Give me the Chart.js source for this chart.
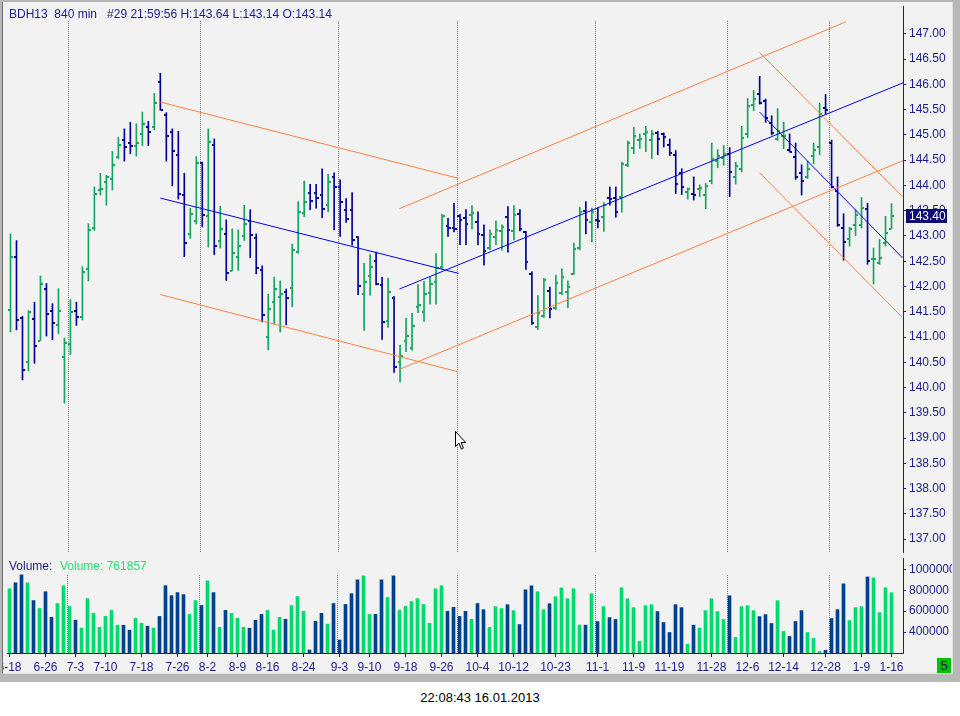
<!DOCTYPE html>
<html>
<head>
<meta charset="utf-8">
<script src="https://cdn.jsdelivr.net/npm/chart.js@4.4.1/dist/chart.umd.min.js"></script>
<style>
  body { margin: 0; width: 960px; height: 716px; overflow: hidden; background: #fff;
         font-family: "Liberation Sans", Arial, sans-serif; }
  #frame { position: absolute; left: 0; top: 0; width: 960px; height: 682px; background: #b8b8b8; }
  #panel { position: absolute; left: 2px; top: 2px; width: 949px; height: 671px; background: #f2f2f2;
           border-left: 1px solid #6e6e6e; border-right: 1px solid #dedede; border-bottom: 1px solid #dedede; }
  canvas { position: absolute; left: 3px; }
  #price { top: 2px; }
  #volume { top: 557px; }
  .txt { position: absolute; font-size: 12px; line-height: 14px; white-space: pre; color: #1c1c8a; }
  #hdr { left: 9px; top: 7px; }
  #volLbl { left: 9px; top: 559px; }
  #volVal { left: 60px; top: 559px; color: #2edc78; }
  #badge { position: absolute; left: 937px; top: 658px; width: 14px; height: 15px; background: #00c000;
           color: #101060; font-size: 13px; line-height: 15px; text-align: center; }
  #stamp { position: absolute; left: 0; top: 690px; width: 960px; text-align: center;
           font-size: 13px; line-height: 15px; color: #000; }
  #cursor { position: absolute; left: 455px; top: 431px; }
</style>
</head>
<body>
<div id="frame"></div>
<div id="panel"></div>
<canvas id="price" width="949" height="555"></canvas>
<canvas id="volume" width="949" height="116"></canvas>
<div id="hdr" class="txt">BDH13  840 min   #29 21:59:56 H:143.64 L:143.14 O:143.14</div>
<div id="volLbl" class="txt">Volume:</div>
<div id="volVal" class="txt">Volume: 761857</div>
<div id="badge">5</div>
<div id="stamp">22:08:43 16.01.2013</div>
<svg id="cursor" width="12" height="19" viewBox="0 0 12 19">
  <path d="M0.5 0.5 L0.5 15.5 L4 12.2 L6.4 18 L8.4 17.1 L6.1 11.6 L10.8 11.6 Z" fill="#fff" stroke="#000" stroke-width="1"/>
</svg>
<script>
// OHLC per 840-min bar
const opens = [
  141.54, 142.58, 141.37, 140.50, 141.35, 140.93, 141.96, 141.52, 141.23, 140.60,
  140.86, 141.52, 141.39, 142.35, 143.15, 143.90, 144.07, 144.13, 144.56, 144.90,
  144.84, 144.78, 145.01, 145.15, 145.15, 146.05, 145.40, 145.05, 144.60, 143.82,
  143.03, 143.29, 144.44, 143.40, 144.80, 142.90, 143.04, 142.31, 142.59, 142.99,
  143.29, 142.96, 142.33, 141.00, 141.69, 141.80, 141.90, 141.97, 142.68, 143.46,
  143.86, 143.86, 143.82, 143.62, 144.16, 143.96, 143.51, 143.51, 142.97, 141.86,
  142.21, 142.50, 142.02, 141.32, 141.78, 140.50, 140.92, 140.78, 141.60, 141.50,
  141.88, 142.09, 142.39, 143.19, 143.16, 143.39, 143.35, 143.42, 143.27, 143.01,
  142.76, 142.97, 143.09, 143.37, 143.10, 143.44, 143.07, 142.25, 141.19, 141.42,
  141.92, 141.57, 141.88, 141.90, 142.25, 142.76, 143.50, 143.27, 143.31, 143.37,
  143.76, 143.75, 143.78, 144.40, 144.74, 144.89, 145.01, 144.89, 145.03, 145.02,
  144.80, 144.60, 144.25, 143.88, 143.84, 143.93, 143.82, 144.09, 144.49, 144.54,
  144.63, 144.17, 144.33, 145.02, 145.59, 145.80, 145.67, 145.24, 144.91, 144.97,
  144.71, 144.56, 144.25, 144.17, 144.58, 144.76, 145.54, 144.84, 143.89, 143.16,
  142.94, 143.21, 143.22, 143.53, 142.54, 142.46, 142.86, 143.14
];
const highs = [
  143.04, 142.91, 141.41, 141.52, 141.69, 142.21, 142.06, 141.66, 141.96, 140.98,
  141.74, 141.69, 142.39, 143.24, 143.97, 144.24, 144.20, 144.67, 144.95, 145.12,
  145.25, 145.22, 145.45, 145.27, 145.82, 146.22, 145.44, 145.12, 145.07, 144.24,
  143.55, 144.57, 144.46, 145.12, 144.92, 143.59, 143.32, 143.14, 143.12, 143.61,
  143.52, 143.04, 142.41, 141.85, 142.18, 142.11, 141.95, 142.84, 143.68, 144.08,
  144.02, 144.02, 144.33, 144.22, 144.25, 144.11, 143.74, 143.86, 142.99, 142.46,
  142.63, 142.68, 142.18, 142.16, 141.80, 140.84, 141.37, 141.47, 142.04, 142.10,
  142.18, 142.65, 143.43, 143.35, 143.65, 143.43, 143.52, 143.60, 143.48, 143.22,
  143.12, 143.30, 143.22, 143.58, 143.60, 143.52, 143.09, 142.29, 141.82, 142.16,
  141.99, 142.22, 142.35, 142.11, 142.86, 143.57, 143.68, 143.55, 143.55, 143.66,
  143.97, 143.97, 144.46, 144.88, 145.15, 145.02, 145.17, 145.09, 145.07, 145.04,
  144.92, 144.69, 144.33, 143.95, 144.17, 144.01, 144.04, 144.84, 144.71, 144.79,
  144.75, 144.46, 145.17, 145.72, 145.88, 146.16, 145.71, 145.38, 145.52, 145.25,
  145.02, 144.84, 144.41, 144.48, 144.84, 145.63, 145.80, 144.90, 144.17, 143.44,
  143.17, 143.52, 143.76, 143.65, 142.76, 142.93, 143.39, 143.64
];
const lows = [
  141.10, 141.14, 140.15, 140.33, 140.48, 140.93, 141.02, 140.95, 141.07, 139.69,
  140.65, 141.23, 141.34, 142.11, 143.11, 143.81, 143.61, 143.91, 144.53, 144.48,
  144.63, 144.58, 144.79, 144.79, 145.10, 145.49, 144.48, 143.99, 143.73, 142.59,
  142.95, 143.24, 143.18, 142.78, 142.63, 142.76, 142.12, 142.31, 142.32, 142.91,
  142.57, 142.25, 141.30, 140.75, 141.26, 141.10, 141.24, 141.60, 142.66, 143.38,
  143.52, 143.55, 143.36, 143.48, 143.12, 142.99, 143.27, 142.82, 141.84, 141.13,
  141.83, 142.03, 140.95, 141.19, 140.30, 140.11, 140.71, 140.74, 141.48, 141.31,
  141.65, 141.65, 142.35, 142.99, 143.08, 142.83, 142.83, 143.14, 142.83, 142.42,
  142.73, 142.83, 142.72, 142.68, 142.92, 143.10, 142.34, 141.25, 141.15, 141.39,
  141.38, 141.54, 141.84, 141.58, 142.24, 142.73, 143.04, 142.88, 143.16, 143.09,
  143.61, 143.37, 143.47, 144.37, 144.63, 144.73, 144.67, 144.53, 144.61, 144.76,
  144.59, 143.84, 143.82, 143.73, 143.71, 143.78, 143.54, 144.03, 144.35, 144.40,
  143.78, 144.03, 144.27, 144.95, 145.48, 145.61, 145.25, 145.00, 144.89, 144.73,
  144.66, 144.12, 143.81, 144.14, 144.43, 144.61, 145.41, 143.95, 143.19, 142.52,
  142.80, 143.01, 143.16, 142.44, 142.05, 142.44, 142.80, 143.14
];
const closes = [
  142.58, 141.33, 140.35, 141.50, 140.82, 142.05, 141.46, 141.27, 141.52, 140.88,
  141.50, 141.39, 142.29, 143.11, 143.84, 143.92, 144.16, 144.40, 144.80, 144.76,
  144.78, 144.84, 145.21, 145.05, 145.64, 145.50, 144.97, 144.68, 143.84, 142.86,
  143.44, 144.44, 143.42, 144.86, 142.80, 143.13, 142.27, 142.66, 142.80, 143.23,
  143.01, 142.37, 141.44, 141.56, 141.95, 141.86, 141.78, 142.72, 143.48, 143.68,
  143.70, 143.76, 143.54, 144.06, 143.97, 143.68, 143.33, 142.93, 142.00, 142.09,
  142.39, 142.05, 141.29, 141.89, 140.41, 140.62, 141.03, 141.22, 141.63, 141.86,
  142.05, 142.37, 143.39, 143.15, 143.14, 143.31, 143.23, 143.46, 143.03, 142.70,
  143.03, 143.11, 143.18, 143.11, 143.41, 143.13, 142.48, 141.27, 141.47, 142.13,
  141.55, 142.06, 142.19, 141.99, 142.74, 143.48, 143.31, 143.48, 143.30, 143.62,
  143.74, 143.47, 144.42, 144.84, 144.97, 144.91, 145.05, 145.02, 144.92, 144.95,
  144.64, 144.03, 143.96, 143.92, 143.82, 143.95, 143.99, 144.53, 144.58, 144.62,
  144.26, 144.38, 144.93, 145.58, 145.71, 145.64, 145.33, 145.04, 145.07, 144.98,
  144.67, 144.16, 144.09, 144.33, 144.71, 145.42, 145.50, 143.97, 143.21, 142.88,
  143.14, 143.42, 143.56, 142.50, 142.55, 142.56, 143.06, 143.40
];
const volumes = [
  814000, 871000, 947000, 871000, 701000, 626000, 786000, 541000, 673000, 843000,
  645000, 513000, 437000, 720000, 579000, 446000, 550000, 607000, 465000, 465000,
  418000, 531000, 484000, 456000, 437000, 550000, 843000, 748000, 777000, 758000,
  569000, 701000, 654000, 890000, 777000, 446000, 607000, 579000, 531000, 446000,
  437000, 513000, 569000, 607000, 418000, 541000, 522000, 654000, 739000, 598000,
  229000, 503000, 579000, 475000, 673000, 324000, 664000, 767000, 899000, 937000,
  569000, 569000, 899000, 730000, 937000, 607000, 645000, 692000, 720000, 664000,
  484000, 814000, 843000, 598000, 636000, 550000, 598000, 522000, 673000, 614000,
  444000, 643000, 624000, 662000, 605000, 472000, 804000, 842000, 785000, 614000,
  671000, 738000, 823000, 719000, 814000, 466000, 466000, 766000, 501000, 643000,
  539000, 520000, 823000, 719000, 633000, 311000, 652000, 662000, 596000, 491000,
  396000, 662000, 633000, 283000, 466000, 437000, 605000, 719000, 596000, 520000,
  747000, 349000, 643000, 652000, 605000, 548000, 567000, 482000, 700000, 406000,
  358000, 501000, 605000, 396000, 339000, 216000, 226000, 529000, 614000, 861000,
  510000, 633000, 643000, 927000, 918000, 586000, 823000, 776000
];

// date labels on the time axis and the bar each one sits under
const dateLabels = ["6-18", "6-26", "7-3", "7-10", "7-18", "7-26", "8-2", "8-9", "8-16", "8-24",
  "9-3", "9-10", "9-18", "9-26", "10-4", "10-12", "10-23", "11-1", "11-9", "11-19",
  "11-28", "12-6", "12-14", "12-28", "1-9", "1-16"];
const dateTickBars = [0, 6, 11, 16, 22, 28, 33, 38, 43, 49, 55, 60, 66, 72, 78, 84, 91, 98,
  104, 110, 117, 123, 129, 136, 142, 147];
// first bar of each new month (dotted separators)
const monthStartBars = [10, 32, 55, 75, 98, 120, 137];
const volumeTicks = [400000, 600000, 800000, 1000000];
const lastPrice = 143.40;

// drawn trend lines: [bar, price] end points
const fallUpper = [[25, 145.65], [74.75, 144.14]];
const fallMid   = [[25, 143.75], [74.75, 142.26]];
const fallLower = [[25, 141.84], [74.75, 140.31]];
const riseUpper = [[64.9, 143.54], [139.4, 147.24]];
const riseMid   = [[64.9, 141.95], [148.9, 146.03]];
const riseLower = [[64.9, 140.36], [148.9, 144.49]];
const dropUpper = [[125, 146.63], [148.8, 143.78]];
const dropMid   = [[125, 145.45], [148.8, 142.57]];
const dropLower = [[125, 144.25], [148.8, 141.39]];

const AXIS = '#1c1c8a';
const GREEN = '#11a65c';
const BLUE = '#000094';
const VGREEN = '#00dc6c';
const VBLUE = '#00418c';
const ORANGE = '#ff8040';
const LINEBLUE = '#0000ff';
const FONT = { family: "'Liberation Sans', Arial, sans-serif", size: 12 };
const X_MIN = -0.4167, X_MAX = 148.9167;

const isUp = closes.map((c, i) => c >= opens[i]);

// small open (left) / close (right) tick images used as point styles
function tickImage(color, right) {
  const c = document.createElement('canvas');
  c.width = 5; c.height = 2;
  const g = c.getContext('2d');
  g.fillStyle = color;
  g.fillRect(right ? 3 : 0, 0, 2, 2);
  return c;
}
const openUp = tickImage(GREEN, false), openDown = tickImage(BLUE, false);
const closeUp = tickImage(GREEN, true), closeDown = tickImage(BLUE, true);

const monthLines = {
  id: 'monthLines',
  beforeDatasetsDraw(chart, args, opts) {
    const { ctx, chartArea, scales: { x } } = chart;
    ctx.save();
    ctx.strokeStyle = '#7c7c7c';
    ctx.lineWidth = 1;
    ctx.setLineDash([1, 1]);
    monthStartBars.forEach(b => {
      const px = Math.floor(x.getPixelForValue(b)) - 1.5;
      ctx.beginPath();
      ctx.moveTo(px, chartArea.top + opts.skip);
      ctx.lineTo(px, chartArea.bottom);
      ctx.stroke();
    });
    ctx.restore();
  }
};

const priceTag = {
  id: 'priceTag',
  afterDraw(chart) {
    const { ctx, chartArea, scales: { y } } = chart;
    const py = Math.round(y.getPixelForValue(lastPrice));
    ctx.save();
    // axis line continues up to the panel top
    ctx.strokeStyle = AXIS;
    ctx.beginPath();
    ctx.moveTo(chartArea.right + 0.5, 4);
    ctx.lineTo(chartArea.right + 0.5, chartArea.top);
    ctx.stroke();
    ctx.fillStyle = '#0c0c72';
    ctx.fillRect(chartArea.right + 3, py - 7, 41, 14);
    ctx.fillStyle = '#fff';
    ctx.font = "12px 'Liberation Sans', Arial, sans-serif";
    ctx.textBaseline = 'middle';
    ctx.fillText(lastPrice.toFixed(2), chartArea.right + 6, py + 0.5);
    ctx.restore();
  }
};

function trend(points, color) {
  return {
    type: 'line',
    data: points.map(p => ({ x: p[0], y: p[1] })),
    borderColor: color,
    borderWidth: 1,
    pointRadius: 0,
    fill: false,
    order: 0
  };
}

new Chart(document.getElementById('price'), {
  type: 'bar',
  data: {
    datasets: [
      {
        type: 'bar',
        data: highs.map((h, i) => ({ x: i, y: [lows[i], h] })),
        backgroundColor: c => isUp[c.dataIndex] ? GREEN : BLUE,
        barThickness: 1,
        borderWidth: 0,
        order: 3
      },
      {
        type: 'line',
        data: opens.map((o, i) => ({ x: i, y: o })),
        showLine: false,
        pointStyle: c => isUp[c.dataIndex] ? openUp : openDown,
        pointRadius: 2,
        order: 2
      },
      {
        type: 'line',
        data: closes.map((v, i) => ({ x: i, y: v })),
        showLine: false,
        pointStyle: c => isUp[c.dataIndex] ? closeUp : closeDown,
        pointRadius: 2,
        order: 2
      },
      trend(fallUpper, ORANGE), trend(fallMid, LINEBLUE), trend(fallLower, ORANGE),
      trend(riseUpper, ORANGE), trend(riseMid, LINEBLUE), trend(riseLower, ORANGE),
      trend(dropUpper, ORANGE), trend(dropMid, LINEBLUE), trend(dropLower, ORANGE)
    ]
  },
  options: {
    responsive: false,
    animation: false,
    devicePixelRatio: 1,
    events: [],
    layout: { padding: { left: 4, top: 18, right: 0, bottom: 0 } },
    plugins: { legend: { display: false }, tooltip: { enabled: false }, monthLines: { skip: 1 } },
    scales: {
      x: { type: 'linear', min: X_MIN, max: X_MAX, offset: false, display: false },
      y: {
        position: 'right',
        min: 136.745,
        max: 147.2745,
        afterFit: s => { s.width = 49; s.paddingTop = 0; s.paddingBottom = 0; },
        ticks: { stepSize: 0.5, includeBounds: false, color: AXIS, font: FONT, padding: 3,
                 callback: v => v.toFixed(2) },
        grid: { drawOnChartArea: false, tickLength: 3, color: AXIS },
        border: { color: AXIS }
      }
    }
  },
  plugins: [monthLines, priceTag]
});

new Chart(document.getElementById('volume'), {
  type: 'bar',
  data: {
    datasets: [{
      data: volumes.map((v, i) => ({ x: i, y: v })),
      backgroundColor: c => isUp[c.dataIndex] ? VGREEN : VBLUE,
      barThickness: 3,
      borderWidth: 0
    }]
  },
  options: {
    responsive: false,
    animation: false,
    devicePixelRatio: 1,
    events: [],
    layout: { padding: { left: 4, top: 1, right: 0, bottom: 0 } },
    plugins: { legend: { display: false }, tooltip: { enabled: false }, monthLines: { skip: 17 } },
    scales: {
      x: {
        type: 'linear', min: X_MIN, max: X_MAX, offset: false,
        afterBuildTicks: s => { s.ticks = dateTickBars.map(v => ({ value: v })); },
        afterFit: s => { s.height = 20; s.paddingLeft = 0; s.paddingRight = 0; },
        ticks: { autoSkip: false, maxRotation: 0, color: AXIS, font: FONT, padding: 3,
                 callback: v => dateLabels[dateTickBars.indexOf(v)] },
        grid: { drawOnChartArea: false, offset: false, tickLength: 4, color: AXIS },
        border: { color: AXIS }
      },
      y: {
        position: 'right',
        min: 200000,
        max: 1108000,
        afterBuildTicks: s => { s.ticks = volumeTicks.map(v => ({ value: v })); },
        afterFit: s => { s.width = 49; s.paddingTop = 0; s.paddingBottom = 0; },
        ticks: { color: AXIS, font: FONT, padding: 3, callback: v => String(v) },
        grid: { drawOnChartArea: false, tickLength: 3, color: AXIS },
        border: { color: AXIS }
      }
    }
  },
  plugins: [monthLines]
});
</script>
</body>
</html>
